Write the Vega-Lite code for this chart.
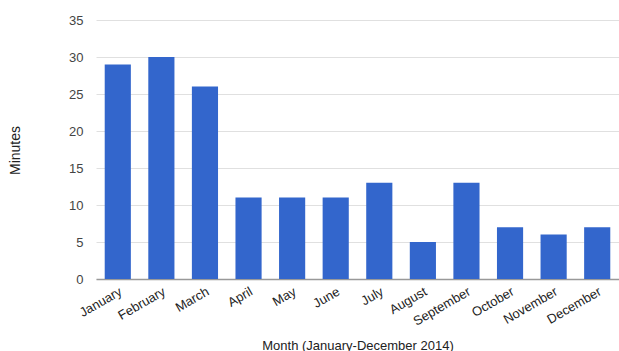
{
  "$schema": "https://vega.github.io/schema/vega-lite/v6.json",
  "autosize": "none",
  "padding": {"left": 96, "top": 20, "right": 0, "bottom": 72},
  "width": 523,
  "height": 259,
  "background": "white",
  "data": {"values": [
    {"month": "January", "minutes": 29},
    {"month": "February", "minutes": 30},
    {"month": "March", "minutes": 26},
    {"month": "April", "minutes": 11},
    {"month": "May", "minutes": 11},
    {"month": "June", "minutes": 11},
    {"month": "July", "minutes": 13},
    {"month": "August", "minutes": 5},
    {"month": "September", "minutes": 13},
    {"month": "October", "minutes": 7},
    {"month": "November", "minutes": 6},
    {"month": "December", "minutes": 7}
  ]},
  "mark": {"type": "bar", "color": "#3366cc"},
  "encoding": {
    "x": {
      "field": "month", "type": "nominal", "sort": null,
      "scale": {"paddingInner": 0.4, "paddingOuter": 0.2},
      "axis": {
        "title": "Month (January-December 2014)",
        "labelAngle": -30, "labelAlign": "right", "labelBaseline": "top",
        "labelFont": "Liberation Sans", "labelFontSize": 13, "labelColor": "#222",
        "labelPadding": 6, "ticks": false,
        "domainColor": "#999", "domainWidth": 1.5,
        "titleFont": "Liberation Sans", "titleFontSize": 13, "titleFontWeight": "normal", "titleColor": "#222",
        "titleY": 66, "titleBaseline": "middle"
      }
    },
    "y": {
      "field": "minutes", "type": "quantitative",
      "scale": {"domain": [0, 35]},
      "axis": {
        "title": "Minutes",
        "values": [0, 5, 10, 15, 20, 25, 30, 35],
        "labelFont": "Liberation Sans", "labelFontSize": 13, "labelColor": "#444",
        "labelPadding": 13, "ticks": false, "domain": false,
        "gridColor": "#e0e0e0", "gridWidth": 1,
        "titleFont": "Liberation Sans", "titleFontSize": 14, "titleFontWeight": "normal", "titleColor": "#222",
        "titleX": -81, "titleY": 130, "titleBaseline": "middle", "titleAngle": -90
      }
    }
  },
  "config": {"view": {"stroke": null}}
}
